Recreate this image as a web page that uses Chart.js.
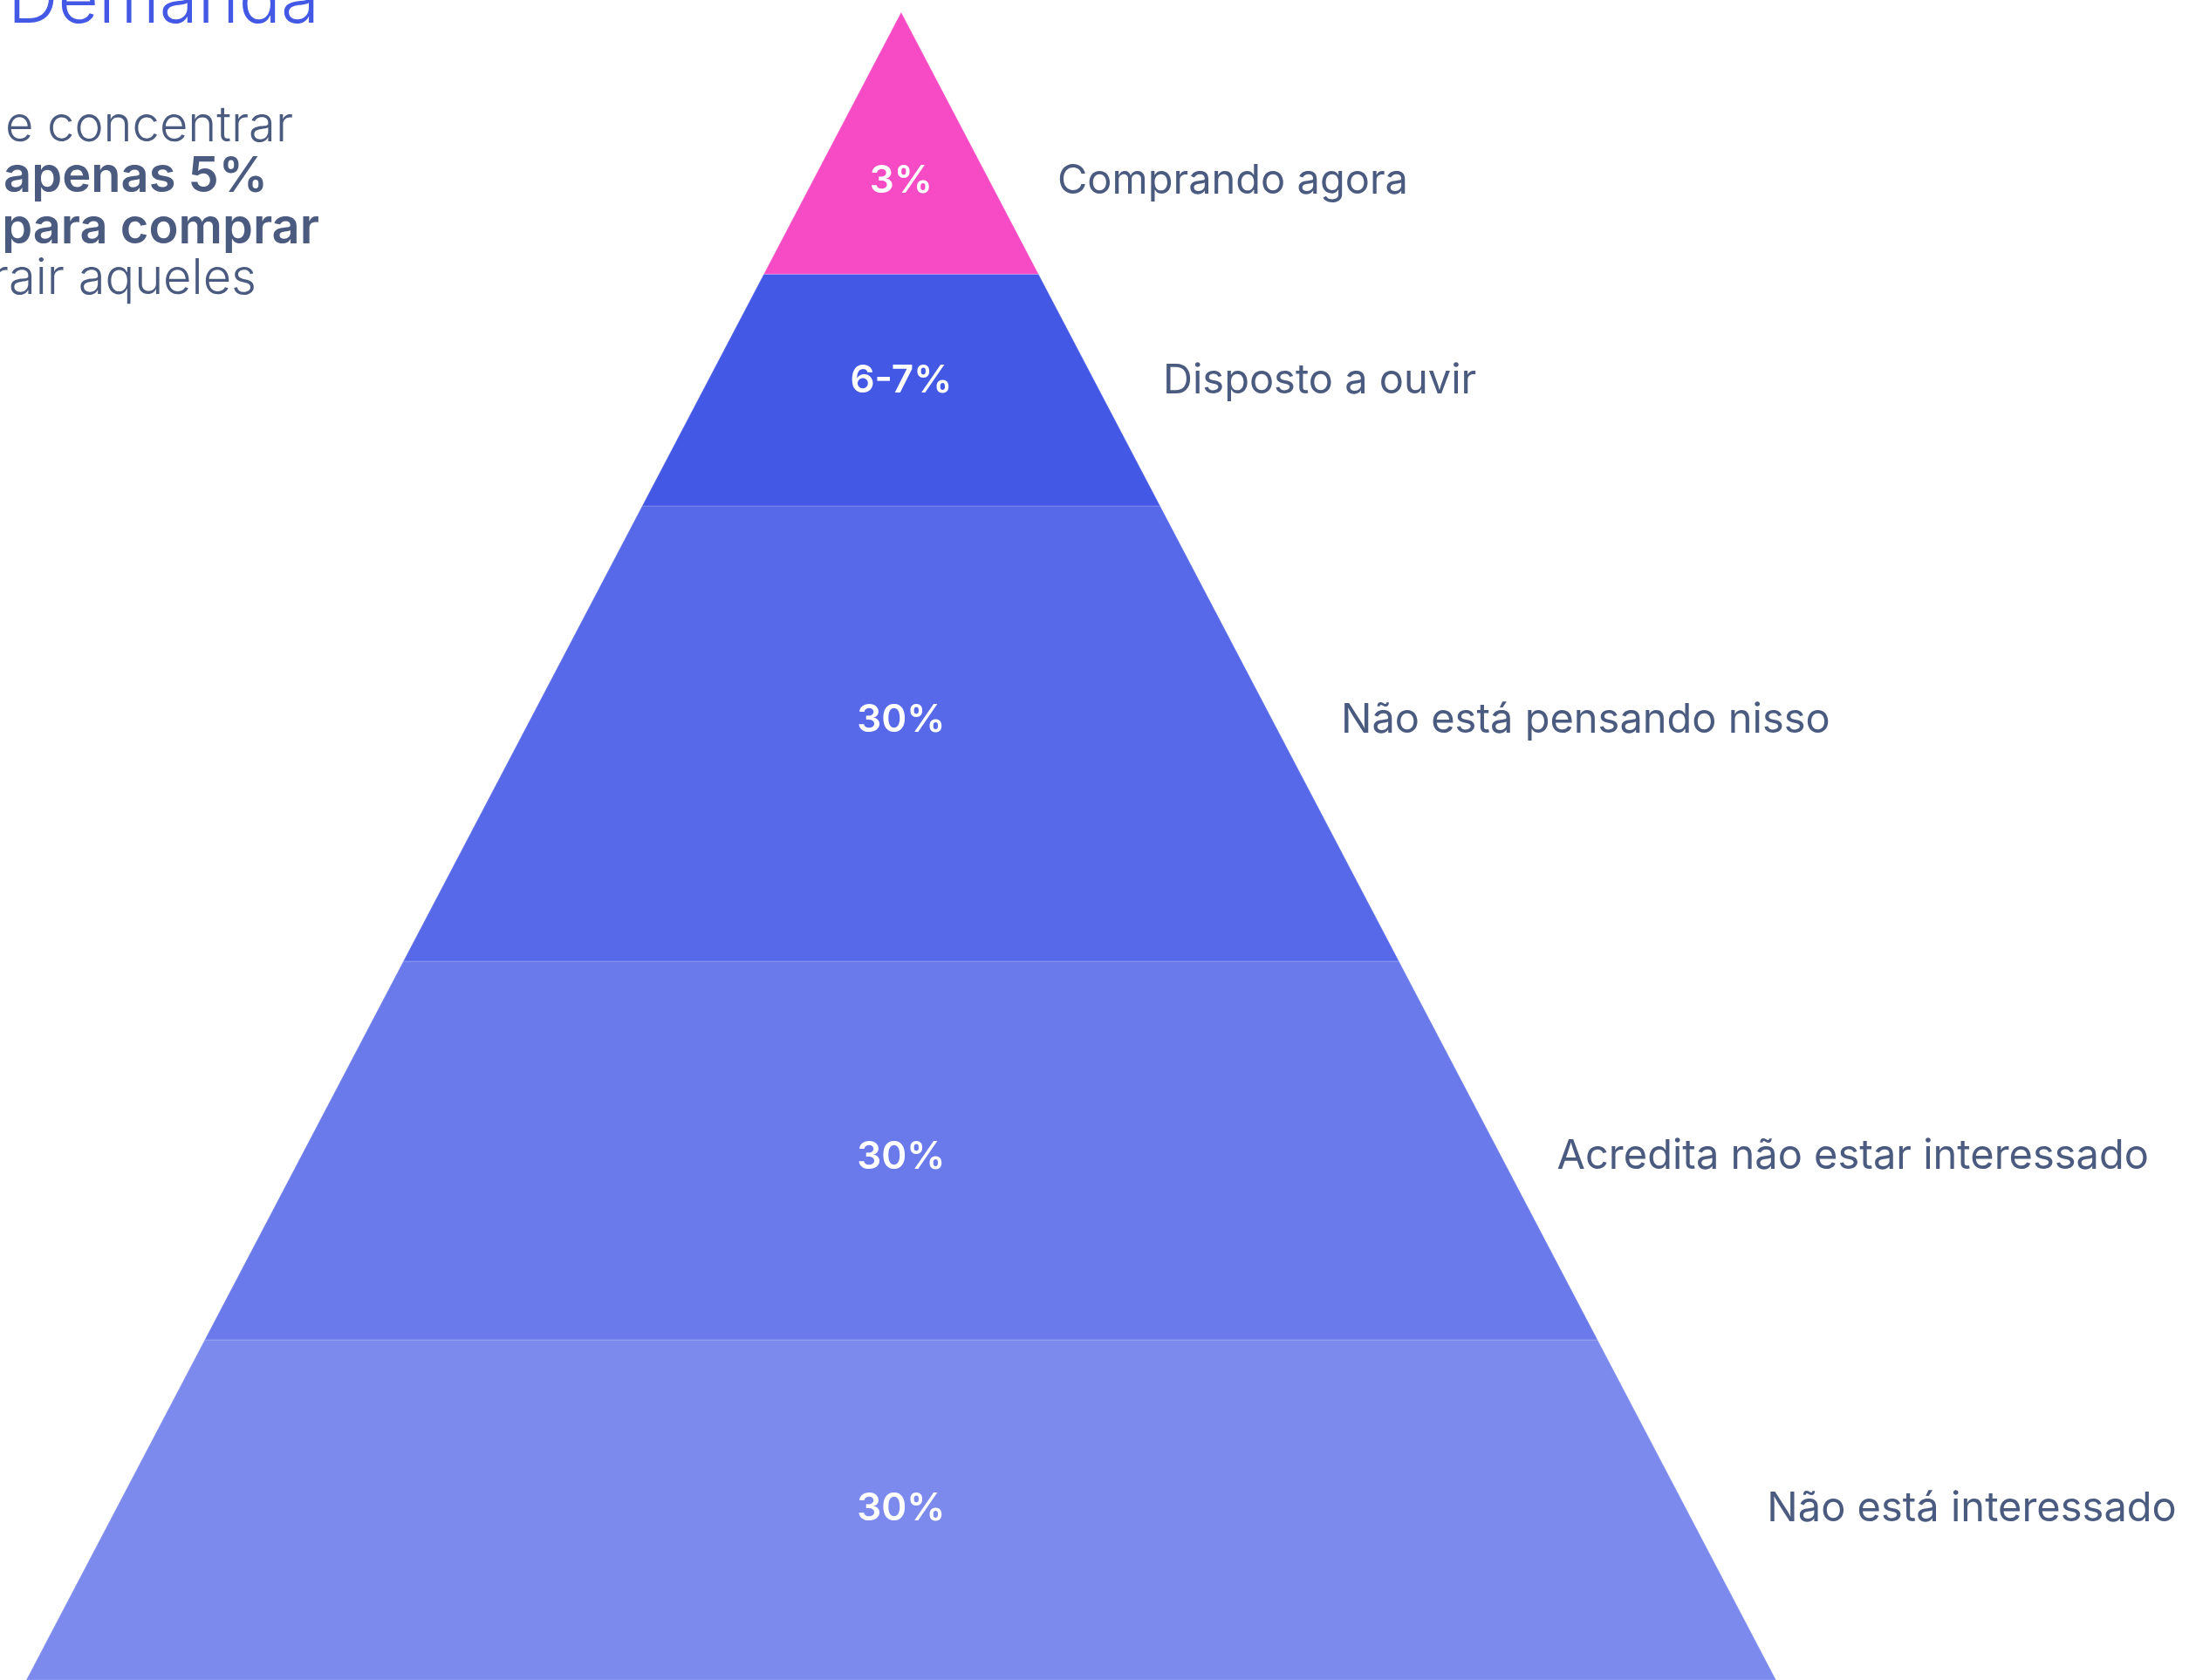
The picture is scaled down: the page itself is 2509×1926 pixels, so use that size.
<!DOCTYPE html>
<html>
<head>
<meta charset="utf-8">
<script src="https://cdn.jsdelivr.net/npm/chart.js@4.4.1/dist/chart.umd.min.js"></script>
<style>
  html, body { margin: 0; padding: 0; background: #ffffff; overflow: hidden; }
  #wrap { position: relative; width: 2509px; height: 1926px; }
  canvas { display: block; }
</style>
</head>
<body>
<div id="wrap"><canvas id="c" width="2509" height="1926"></canvas></div>
<script>
// ---- data ----
const categories = ['Comprando agora', 'Disposto a ouvir', 'Não está pensando nisso', 'Acredita não estar interessado', 'Não está interessado'];
const shareLabels = ['3%', '6-7%', '30%', '30%', '30%'];
// depth of the bottom of each layer, in % of pyramid height (apex = 0, base = 100)
const layerBottoms = [15.7, 29.6, 56.9, 79.6, 100];
const titleText = 'Demanda';
const introLines = ['e concentrar', 'apenas 5%', 'para comprar', 'rair aqueles'];
const introBold = [false, true, true, false];

// ---- styles / layout ----
const layerColors = ['#f74bc5', '#4458e6', '#5769e9', '#6a7aea', '#7c8aee'];
const textColor = '#4b5b80';
const titleColor = '#4359e6';
const labelFrac = [0.636, 0.45, 0.465, 0.51, 0.49];   // where inside a layer its labels sit
const labelGap = [79, 80, 80, 65, 94];                // px between pyramid edge and side label
const labelNudgeY = 3;

const layerTop = i => (i === 0 ? 0 : layerBottoms[i - 1]);
const halfWidth = d => d / 100;

const datasets = categories.map((name, i) => {
  const t = layerTop(i), b = layerBottoms[i];
  return {
    label: name,
    data: [
      { x: -halfWidth(t), y: t },
      { x: halfWidth(t), y: t },
      { x: halfWidth(b), y: b },
      { x: -halfWidth(b), y: b },
      { x: -halfWidth(t), y: t }
    ],
    showLine: true,
    fill: 'shape',
    backgroundColor: layerColors[i],
    borderColor: 'rgba(255,255,255,0.13)',
    borderWidth: 1.5,
    pointRadius: 0,
    pointHoverRadius: 0,
    tension: 0
  };
});

const labelPlugin = {
  id: 'pyramidLabels',
  afterDatasetsDraw(chart) {
    const ctx = chart.ctx;
    const xs = chart.scales.x, ys = chart.scales.y;
    ctx.save();
    categories.forEach((name, i) => {
      const t = layerTop(i), b = layerBottoms[i];
      const d = t + labelFrac[i] * (b - t);
      const y = ys.getPixelForValue(d) + labelNudgeY;
      ctx.textBaseline = 'middle';
      ctx.textAlign = 'center';
      ctx.fillStyle = '#ffffff';
      ctx.font = '600 44px Inter';
      ctx.fillText(shareLabels[i], xs.getPixelForValue(0), y);
      ctx.textAlign = 'left';
      ctx.fillStyle = textColor;
      ctx.font = '400 47px Inter';
      ctx.fillText(name, xs.getPixelForValue(halfWidth(d)) + labelGap[i], y);
    });
    ctx.restore();
  },
  afterDraw(chart) {
    const ctx = chart.ctx;
    ctx.save();
    ctx.textBaseline = 'alphabetic';
    ctx.textAlign = 'left';
    ctx.fillStyle = titleColor;
    ctx.font = '300 80px Inter';
    ctx.fillText(titleText, 9, 26);
    const rights = [336, 307, 366, 294];
    ctx.textAlign = 'right';
    ctx.fillStyle = textColor;
    introLines.forEach((line, i) => {
      ctx.font = (introBold[i] ? '600 ' : '300 ') + '56px Inter';
      ctx.fillText(line, rights[i], 162 + i * 58.3);
    });
    ctx.restore();
  }
};

new Chart(document.getElementById('c'), {
  type: 'scatter',
  data: { datasets },
  options: {
    responsive: false,
    animation: false,
    events: [],
    layout: { padding: 0 },
    scales: {
      x: { type: 'linear', display: false, min: -1.03, max: 1.472 },
      y: { type: 'linear', display: false, reverse: true, min: -0.73, max: 100 }
    },
    plugins: {
      legend: { display: false },
      tooltip: { enabled: false },
      title: { display: false }
    }
  },
  plugins: [labelPlugin]
});
</script>
</body>
</html>
